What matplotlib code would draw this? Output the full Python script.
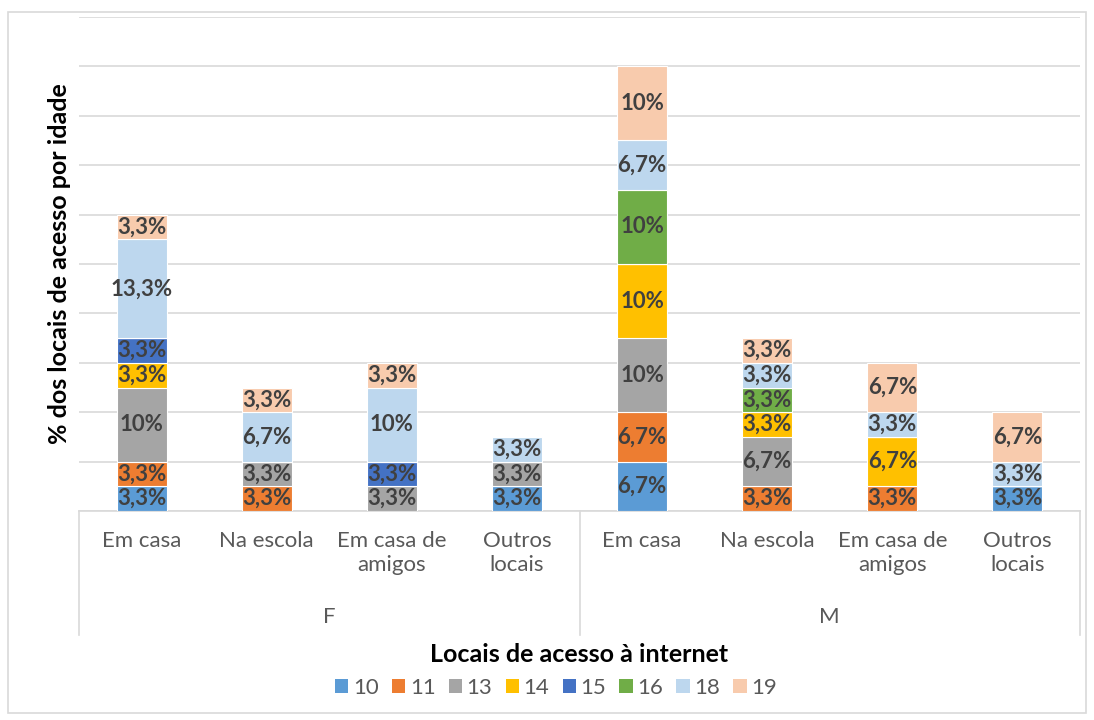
import matplotlib
matplotlib.use("Agg")
import matplotlib.pyplot as plt
from matplotlib.patches import Rectangle, Patch
import numpy as np

plt.rcParams['font.family'] = ['Lato', 'DejaVu Sans']

groups = ["F", "M"]
locations = ["Em casa", "Na escola", "Em casa de\namigos", "Outros\nlocais"]
ages = ["10", "11", "13", "14", "15", "16", "18", "19"]
colors = ["#5B9BD5", "#ED7D31", "#A5A5A5", "#FFC000", "#4472C4", "#70AD47", "#BDD7EE", "#F8CBAD"]

# values in % ; order of bars: F(Em casa, Na escola, Em casa de amigos, Outros), M(...)
v10 = [3.33, 0, 0, 3.33, 6.67, 0, 0, 3.33]
v11 = [3.33, 3.33, 0, 0, 6.67, 3.33, 3.33, 0]
v13 = [10.0, 3.33, 3.33, 3.33, 10.0, 6.67, 0, 0]
v14 = [3.33, 0, 0, 0, 10.0, 3.33, 6.67, 0]
v15 = [3.33, 0, 3.33, 0, 0, 0, 0, 0]
v16 = [0, 0, 0, 0, 10.0, 3.33, 0, 0]
v18 = [13.33, 6.67, 10.0, 3.33, 6.67, 3.33, 3.33, 3.33]
v19 = [3.33, 3.33, 3.33, 0, 10.0, 3.33, 6.67, 6.67]
series = [v10, v11, v13, v14, v15, v16, v18, v19]

W, H = 1094, 720
fig = plt.figure(figsize=(W / 100, H / 100), dpi=100)
# outer chart border
fig.patches.append(Rectangle((8 / W, 1 - 713 / H), (1086 - 8) / W, (713 - 12) / H,
                             transform=fig.transFigure, fill=False, edgecolor="#D9D9D9", lw=1.2))

L, R, T, B = 79, 1080, 17, 511
ax = fig.add_axes([L / W, 1 - B / H, (R - L) / W, (B - T) / H])
ph = B - T

n = len(groups) * len(locations)
x = np.arange(n)
bottom = np.zeros(n)
for vals, col, age in zip(series, colors, ages):
    vals = np.array(vals, dtype=float)
    ax.bar(x, vals, width=0.4, bottom=bottom, color=col, edgecolor="white", linewidth=0.8, zorder=3)
    for xi, b, v in zip(x, bottom, vals):
        if v > 0:
            r = round(v, 1)
            s = (f"{int(r)}" if r == int(r) else f"{r:.1f}".replace(".", ",")) + "%"
            ax.text(xi, b + v / 2, s, ha="center", va="center", fontsize=16, fontweight="bold",
                    color="#404040", zorder=4)
    bottom += vals

top = 66.67
ax.set_xlim(-0.5, n - 0.5)
ax.set_ylim(0, top)
ax.set_yticks(np.linspace(0, top, 11))
ax.set_yticklabels([])
ax.tick_params(axis="y", length=0)
ax.yaxis.grid(True, color="#D9D9D9", linewidth=1.2, zorder=0)
ax.set_axisbelow(True)
ax.set_xticks([])
for s in ["top", "right", "left"]:
    ax.spines[s].set_visible(False)
ax.spines["bottom"].set_color("#D9D9D9")
ax.spines["bottom"].set_linewidth(1.2)

# multi-level category axis
def ya(py):
    return (B - py) / ph

for xv in [-0.5, 3.5, n - 0.5]:
    ax.plot([xv, xv], [0, ya(635)], color="#D9D9D9", lw=1.2, clip_on=False,
            transform=ax.get_xaxis_transform())

tr = ax.get_xaxis_transform()
for i in range(n):
    ax.text(x[i], ya(531), locations[i % len(locations)], ha="center", va="top", fontsize=16,
            color="#595959", transform=tr, linespacing=1.25)
for g, gname in enumerate(groups):
    ax.text(g * len(locations) + (len(locations) - 1) / 2, ya(617), gname, ha="center", va="center",
            fontsize=16, color="#595959", transform=tr)

ax.text(0.5, ya(655), "Locais de acesso à internet", ha="center", va="center", fontsize=18,
        fontweight="bold", color="black", transform=ax.transAxes)
fig.text(60 / W, 1 - 264 / H, "% dos locais de acesso por idade", rotation=90, ha="center", va="center",
         fontsize=18, fontweight="bold", color="black")

handles = [Patch(facecolor=c, edgecolor="none") for c in colors]
fig.legend(handles, ages, loc="center", bbox_to_anchor=(556 / W, 1 - 688 / H), ncol=len(ages),
           frameon=False, fontsize=16, handlelength=0.6, handleheight=0.6, handletextpad=0.2,
           columnspacing=0.6, labelcolor="#595959")

fig.savefig("out.png", dpi=100)
